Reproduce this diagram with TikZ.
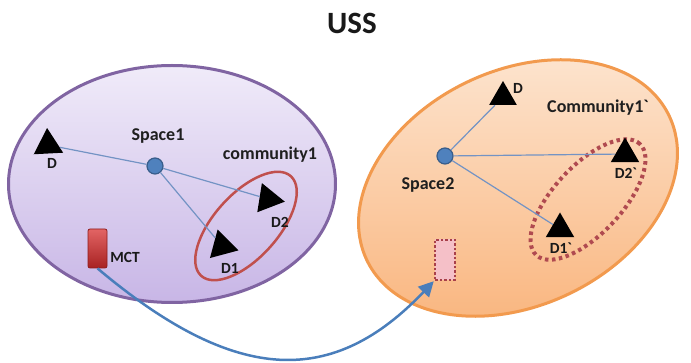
\documentclass[tikz,border=0pt]{standalone}
\usepackage{fontspec}
\setmainfont{Carlito}
\usetikzlibrary{shapes.geometric,arrows.meta}
\definecolor{purpleedge}{HTML}{8064A2}
\definecolor{lavtop}{HTML}{F0EBF9}
\definecolor{lavbot}{HTML}{C8B6E6}
\definecolor{orangeedge}{HTML}{F29A4E}
\definecolor{peachtop}{HTML}{FDE6D2}
\definecolor{peachbot}{HTML}{F9B47C}
\definecolor{commred}{HTML}{C0504D}
\definecolor{dotred}{HTML}{B04A50}
\definecolor{spaceblue}{HTML}{4F81BD}
\definecolor{spaceedge}{HTML}{385D8A}
\definecolor{linkblue}{HTML}{7393C4}
\definecolor{arrowblue}{HTML}{4A7EBB}
\definecolor{mcttop}{HTML}{E26464}
\definecolor{mctbot}{HTML}{A82222}
\definecolor{mctedge}{HTML}{8E1C1C}
\definecolor{pinkside}{HTML}{F5C0C8}
\definecolor{pinkmid}{HTML}{FDEEF1}
\definecolor{pinkedge}{HTML}{A8404A}
\begin{document}
\begin{tikzpicture}[x=1pt,y=-1pt,
  tri/.style={regular polygon, regular polygon sides=3, fill=black, draw=none, minimum size=34pt, inner sep=0pt},
  spacept/.style={circle, fill=spaceblue, draw=spaceedge, line width=1.2pt, minimum size=16pt, inner sep=0pt},
  biglbl/.style={font=\fontsize{18}{20}\selectfont\bfseries, text=black!88, inner sep=0pt},
  lbl/.style={font=\fontsize{15.5}{17}\selectfont\bfseries, text=black!90, inner sep=0pt},
  link/.style={draw=linkblue, line width=1.2pt},
  area/.style={ellipse, inner sep=0pt, line width=3pt},
]
\useasboundingbox (0,0) rectangle (691,363);

% title
\node[font=\fontsize{31}{34}\selectfont\bfseries, text=black!90, inner sep=0pt] (title) at (352,23) {USS};

% spaces
\node[area, minimum width=327pt, minimum height=237pt, draw=purpleedge, top color=lavtop, bottom color=lavbot] (area1) at (172,184) {};
\node[area, minimum width=335pt, minimum height=235pt, rotate=25.5, draw=orangeedge, top color=peachtop, bottom color=peachbot] (area2) at (518,188) {};

% communities
\node[ellipse, inner sep=0pt, minimum width=134pt, minimum height=64pt, rotate=48, draw=commred, line width=2.5pt] (comm1) at (246,226) {};
\node[ellipse, inner sep=0pt, minimum width=152pt, minimum height=68pt, rotate=47, draw=dotred, line width=4pt, dash pattern=on 3.5pt off 3.5pt] (comm2) at (588,199.5) {};

% space points
\node[spacept] (s1) at (155,166) {};
\node[spacept] (s2) at (445,156) {};

% devices left
\node[tri, rotate=3] (dL) at (48,145) {};
\node[tri, rotate=21] (d2) at (268,199) {};
\node[tri, rotate=15] (d1) at (222,246) {};
% devices right
\node[tri, minimum size=32pt] (dR) at (503,97) {};
\node[tri, minimum size=33pt] (d2p) at (625,154) {};
\node[tri, minimum size=33pt] (d1p) at (560,229) {};

% links
\draw[link] (dL) -- (s1);
\draw[link] (s1) -- (d2);
\draw[link] (s1) -- (d1);
\draw[link] (s2) -- (dR);
\draw[link] (s2) -- (d2p);
\draw[link] (s2) -- (d1p);

% terminals
\node[rectangle, rounded corners=2pt, minimum width=19pt, minimum height=39pt, inner sep=0pt, top color=mcttop, bottom color=mctbot, draw=mctedge, line width=0.8pt] (mct) at (97.5,248.5) {};
\node[rectangle, minimum width=20pt, minimum height=40pt, inner sep=0pt, top color=pinkside, middle color=pinkmid, bottom color=pinkside, draw=pinkedge, line width=2.5pt, dash pattern=on 2.5pt off 2pt] (ghost) at (445,260) {};

% move arrow
\draw[arrowblue, line width=2.5pt, -{Triangle[length=15pt, width=15pt]}] (mct.south) .. controls +(140,118) and +(-100,105) .. (ghost.south west);

% labels
\node[biglbl] (lblS1) at (158,136) {Space1};
\node[biglbl] (lblC1) at (270,155) {community1};
\node[biglbl] (lblS2) at (428,185) {Space2};
\node[biglbl] (lblC2) at (598,108) {Community1\textasciigrave};
\node[lbl] (lblD) at (52,163) {D};
\node[lbl] (lblD2) at (280,222) {D2};
\node[lbl] (lblD1) at (230,268) {D1};
\node[lbl] (lblMCT) at (125,257) {MCT};
\node[lbl] (lblDR) at (518,88) {D};
\node[lbl] (lblD2p) at (626,173) {D2\textasciigrave};
\node[lbl] (lblD1p) at (561,248) {D1\textasciigrave};
\end{tikzpicture}
\end{document}
